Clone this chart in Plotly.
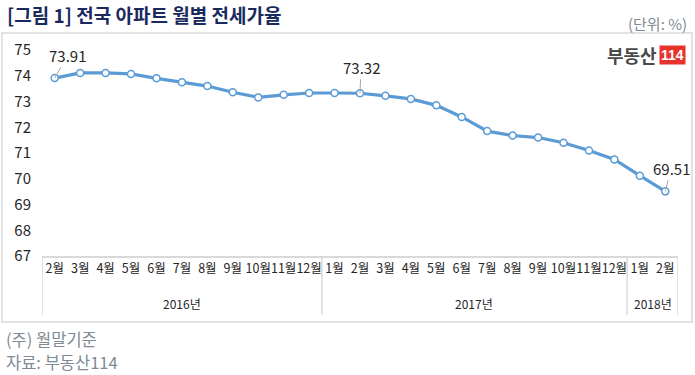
import plotly.graph_objects as go

years = ["2016년"] * 11 + ["2017년"] * 12 + ["2018년"] * 2
months = ["2월", "3월", "4월", "5월", "6월", "7월", "8월", "9월", "10월", "11월", "12월",
          "1월", "2월", "3월", "4월", "5월", "6월", "7월", "8월", "9월", "10월", "11월", "12월",
          "1월", "2월"]
values = [73.91, 74.11, 74.11, 74.07, 73.90, 73.75, 73.60, 73.36, 73.16, 73.26, 73.33,
          73.33, 73.32, 73.22, 73.10, 72.85, 72.40, 71.85, 71.68, 71.60, 71.40, 71.10, 70.75,
          70.12, 69.51]
labeled = {0: (13, -23), 12: (1, -26), 24: (6, -23)}

FONT = "Noto Sans CJK KR"
BLUE = "#5B9BD5"
GRAY = "#7F8A96"
BORDER = "#D9D9D9"

idx = list(range(len(values)))

fig = go.Figure()
fig.add_trace(go.Scatter(
    x=idx, y=values, mode="lines+markers",
    line=dict(color=BLUE, width=3.2),
    marker=dict(symbol="circle", size=7, color="white", line=dict(color=BLUE, width=1.5)),
    hoverinfo="skip", showlegend=False,
))

for i, (ax, ay) in labeled.items():
    fig.add_annotation(x=i, y=values[i], xref="x", yref="y", text=f"{values[i]:.2f}",
                       showarrow=True, arrowhead=0, arrowwidth=1, arrowcolor="#A6A6A6",
                       ax=ax, ay=ay, font=dict(family=FONT, size=15, color="#262626"))

W, H = 695, 375
L, R, T, B = 42, 17, 50, 119
pw, ph = W - L - R, H - T - B
def px(x): return (x - L) / pw
def py(y): return (H - B - y) / ph

# year groups: labels and dividers
groups = []
for i, yv in enumerate(years):
    if not groups or groups[-1][0] != yv:
        groups.append([yv, i, i])
    else:
        groups[-1][2] = i
for name, s, e in groups:
    fig.add_annotation(x=(s + e) / 2, xref="x", y=py(303), yref="paper", text=name,
                       showarrow=False, yanchor="middle",
                       font=dict(family=FONT, size=12, color="#262626"))
    fig.add_shape(type="line", xref="x", yref="paper", x0=s - 0.5, x1=s - 0.5, y0=0, y1=py(315),
                  line=dict(color=BORDER, width=1.5))
fig.add_shape(type="line", xref="x", yref="paper", x0=groups[-1][2] + 0.5, x1=groups[-1][2] + 0.5,
              y0=0, y1=py(315), line=dict(color=BORDER, width=1.5))

# outer frame
fig.add_shape(type="rect", xref="paper", yref="paper", x0=px(2), x1=px(692), y0=py(322), y1=py(33),
              line=dict(color=BORDER, width=1.5), layer="below")

fig.add_annotation(xref="paper", yref="paper", x=px(5), y=py(14), xanchor="left", yanchor="middle",
                   text="<b>[그림 1] 전국 아파트 월별 전세가율</b>", showarrow=False,
                   font=dict(family=FONT, size=19, color="#1B2A5E"))
fig.add_annotation(xref="paper", yref="paper", x=px(689), y=py(23), xanchor="right", yanchor="middle",
                   text="(단위: %)", showarrow=False, font=dict(family=FONT, size=15, color=GRAY))
fig.add_annotation(xref="paper", yref="paper", x=px(4), y=py(339), xanchor="left", yanchor="middle",
                   text="(주) 월말기준", showarrow=False, font=dict(family=FONT, size=16.5, color=GRAY))
fig.add_annotation(xref="paper", yref="paper", x=px(4), y=py(362), xanchor="left", yanchor="middle",
                   text="자료: 부동산114", showarrow=False, font=dict(family=FONT, size=16.5, color=GRAY))
# logo
fig.add_annotation(xref="paper", yref="paper", x=px(659), y=py(55), xanchor="right", yanchor="middle",
                   text="<b>부동산</b>", showarrow=False, font=dict(family=FONT, size=18, color="#4A4A4A"))
fig.add_annotation(xref="paper", yref="paper", x=px(672), y=py(55), xanchor="center", yanchor="middle",
                   text="<b>114</b>", showarrow=False, bgcolor="#E8322B", borderpad=1,
                   font=dict(family="Liberation Sans Narrow, Liberation Sans", size=14, color="white"))

fig.update_layout(
    width=W, height=H, margin=dict(l=L, r=R, t=T, b=B, autoexpand=False),
    paper_bgcolor="white", plot_bgcolor="white",
    font=dict(family=FONT, color="#262626"),
    xaxis=dict(showline=True, linecolor=BORDER, linewidth=1.5, showgrid=False, zeroline=False,
               ticks="", tickmode="array", tickvals=idx, ticktext=months, tickangle=0,
               tickfont=dict(family=FONT, size=12.5, color="#262626"), range=[-0.5, 24.5],
               automargin=False),
    yaxis=dict(range=[67, 75], dtick=1, showgrid=False, showline=False, ticks="", zeroline=False,
               tickfont=dict(family=FONT, size=15, color="#262626"), ticklabelstandoff=10,
               automargin=False),
)

fig.write_html("out.html", config={"displayModeBar": False},
               post_script="document.body.style.margin='0';document.body.style.overflow='hidden';")
